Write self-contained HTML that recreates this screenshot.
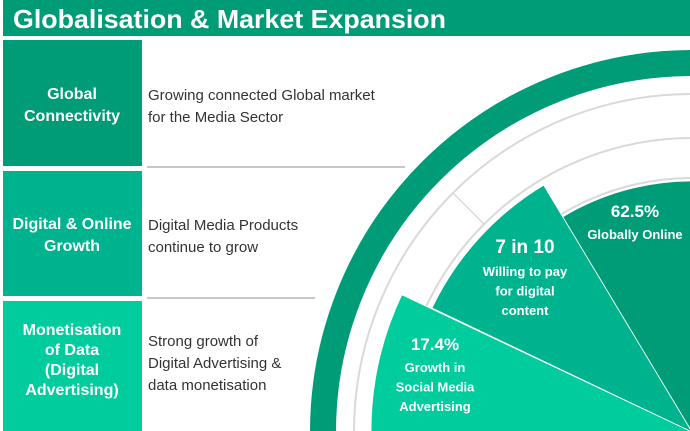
<!DOCTYPE html>
<html><head><meta charset="utf-8"><style>
html,body{margin:0;padding:0;background:#fff;width:690px;height:431px;overflow:hidden;}
svg{display:block;overflow:hidden;font-family:"Liberation Sans",sans-serif;}
</style></head><body>
<svg width="690" height="431" viewBox="0 0 690 431">
<defs><clipPath id="frame"><rect x="0" y="0" width="690" height="431"/></clipPath></defs>
<rect x="3" y="0" width="687" height="36" fill="#009b77"/>
<text x="13" y="28" font-size="26" font-weight="bold" fill="#fff" textLength="433" lengthAdjust="spacingAndGlyphs">Globalisation &amp; Market Expansion</text>

<rect x="3" y="40" width="139" height="126" fill="#009b77"/>
<text x="72" y="99" font-size="16" font-weight="bold" fill="#fff" text-anchor="middle"><tspan x="72">Global</tspan><tspan x="72" dy="22">Connectivity</tspan></text>
<rect x="3" y="171" width="139" height="125" fill="#00b38f"/>
<text x="72" y="229" font-size="16" font-weight="bold" fill="#fff" text-anchor="middle"><tspan x="72">Digital &amp; Online</tspan><tspan x="72" dy="22">Growth</tspan></text>
<rect x="3" y="301" width="139" height="130" fill="#00cc9e"/>
<text x="72" y="335" font-size="16" font-weight="bold" fill="#fff" text-anchor="middle"><tspan x="72">Monetisation</tspan><tspan x="72" dy="20">of Data</tspan><tspan x="72" dy="20">(Digital</tspan><tspan x="72" dy="20">Advertising)</tspan></text>

<g font-size="15" fill="#333">
<text x="148" y="100"><tspan x="148">Growing connected Global market</tspan><tspan x="148" dy="22">for the Media Sector</tspan></text>
<text x="148" y="230"><tspan x="148">Digital Media Products</tspan><tspan x="148" dy="22">continue to grow</tspan></text>
<text x="148" y="346"><tspan x="148">Strong growth of</tspan><tspan x="148" dy="22">Digital Advertising &amp;</tspan><tspan x="148" dy="22">data monetisation</tspan></text>
</g>
<line x1="147" y1="167" x2="405" y2="167" stroke="#c8c8c8" stroke-width="2"/>
<line x1="147" y1="298" x2="315" y2="298" stroke="#c8c8c8" stroke-width="2"/>
<g id="chart" clip-path="url(#frame)"></g>
</svg>
<script>
const labelsTop = ["62.5%", "7 in 10", "17.4%"];
const labelsSub = [["Globally Online"], ["Willing to pay","for digital","content"], ["Growth in","Social Media","Advertising"]];
const ns="http://www.w3.org/2000/svg";
const g=document.getElementById('chart');
const cx=692, cy=432;
function p(r,a){const t=a*Math.PI/180;return [cx-r*Math.cos(t), cy-r*Math.sin(t)];}
function arcPath(r,a1,a2){const s=p(r,a1),e=p(r,a2);return `M${s[0]},${s[1]} A${r},${r} 0 0 1 ${e[0]},${e[1]}`;}
function mk(tag,attrs){const el=document.createElementNS(ns,tag);for(const k in attrs)el.setAttribute(k,attrs[k]);g.appendChild(el);return el;}
let el=mk('path',{d:arcPath(369,0,90),fill:'none',stroke:'#009b77','stroke-width':26});


[338,294,254].forEach(r=>{const e=mk('path',{d:arcPath(r,0,90),fill:'none',stroke:'#d9d9d9','stroke-width':2});

});
const s1=p(294,45),s2=p(338,45);
el=mk('line',{x1:s1[0],y1:s1[1],x2:s2[0],y2:s2[1],stroke:'#d9d9d9','stroke-width':1.5});


const wedges=[[251,59,90,'#009b77'],[288,25.5,59,'#00b38f'],[321,0,25.3,'#00cc9e']];
const names=['wedge-globally-online','wedge-willing-to-pay','wedge-social-media'];
wedges.forEach((w,i)=>{const a=p(w[0],w[1]),b=p(w[0],w[2]);
const e=mk('path',{d:`M${cx},${cy} L${a[0]},${a[1]} A${w[0]},${w[0]} 0 0 1 ${b[0]},${b[1]} Z`,fill:w[3],stroke:'#fff','stroke-width':0.8});

});
const pos=[[635,217,239],[525,253,276],[435,350,372]];
labelsTop.forEach((t,i)=>{const e=mk('text',{x:pos[i][0],y:pos[i][1],'font-size':i==1?19:17,'font-weight':'bold',fill:'#fff','text-anchor':'middle'});
e.textContent=t;


labelsSub[i].forEach((s,j)=>{const f=mk('text',{x:pos[i][0],y:pos[i][2]+j*19.5,'font-size':13,'font-weight':'bold',fill:'#fff','text-anchor':'middle'});
f.textContent=s;

});});
</script>
</body></html>
